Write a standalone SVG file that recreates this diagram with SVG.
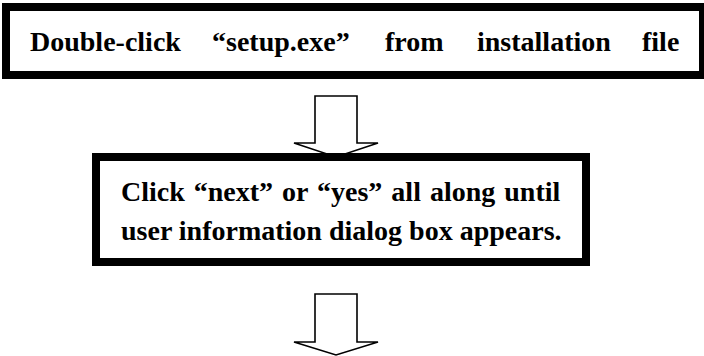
<svg xmlns="http://www.w3.org/2000/svg" width="704" height="356" viewBox="0 0 704 356">
  <style>
    .box { fill: #ffffff; stroke: #000000; stroke-width: 8; }
    .arrow { fill: #ffffff; stroke: #000000; stroke-width: 1.6; stroke-linejoin: miter; }
    .label { font-weight: 700; font-size: 28px; fill: #000000; }
  </style>
  <rect width="704" height="356" fill="#ffffff"/>

  <!-- block arrows between the steps -->
  <g id="connectors">
    <polygon class="arrow" points="315,96 357,96 357,143 378,143 336,157 294,143 315,143"/>
    <polygon class="arrow" points="315,294 357,294 357,342 378,342 336,355 294,342 315,342"/>
  </g>

  <!-- step 1 -->
  <g id="step1">
    <rect class="box" x="6" y="7" width="697" height="68"/>
    <text class="label" font-family="Liberation Serif, Tinos, DejaVu Serif, serif" y="51">
      <tspan x="30">Double-click</tspan>
      <tspan x="212">“setup.exe”</tspan>
      <tspan x="385">from</tspan>
      <tspan x="477">installation</tspan>
      <tspan x="642">file</tspan>
    </text>
  </g>

  <!-- step 2 -->
  <g id="step2">
    <rect class="box" x="96" y="157" width="490" height="105"/>
    <text class="label" font-family="Liberation Serif, Tinos, DejaVu Serif, serif" x="121" y="201" word-spacing="2">Click “next” or “yes” all along until</text>
    <text class="label" font-family="Liberation Serif, Tinos, DejaVu Serif, serif" x="121" y="240">user information dialog box appears.</text>
  </g>
</svg>
